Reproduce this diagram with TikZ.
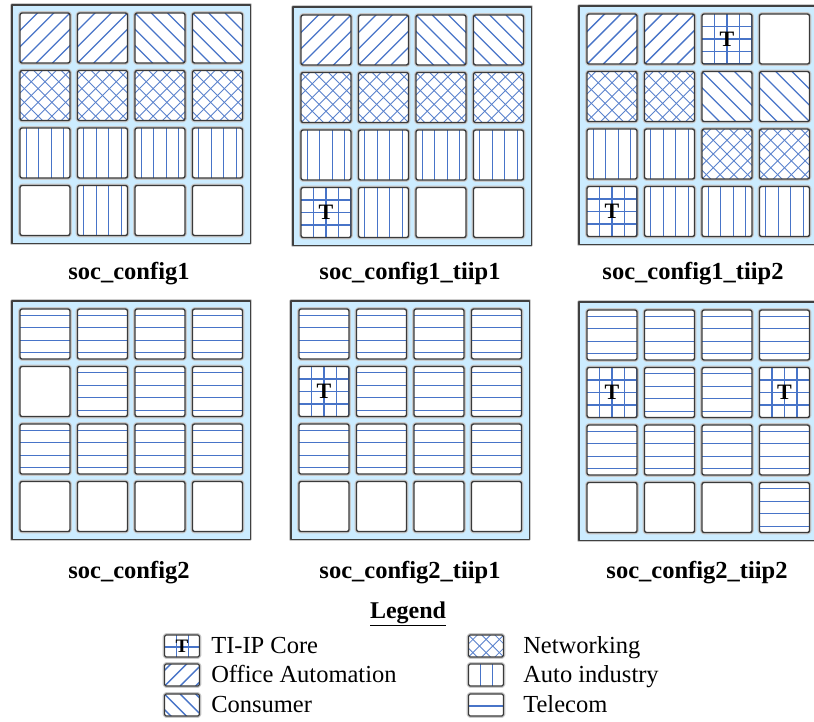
\documentclass[tikz,border=0pt]{standalone}
\usepackage{fontspec}
\setmainfont{Liberation Serif}
\usetikzlibrary{positioning,calc}
\definecolor{panelblue}{RGB}{204,236,255}
\definecolor{hatchblue}{RGB}{72,116,200}
\definecolor{tileedge}{RGB}{58,58,58}
\newcommand{\txttiip}{T}

\tikzset{
  hgap/.store in=\hgap, hstart/.store in=\hstart, hgap=12.5, hstart=6.25,
  hatchline/.style={draw=hatchblue, line width=1.4pt},
  crossline/.style={draw=hatchblue!90, line width=0.8pt},
  tilebox/.style={rectangle, rounded corners=2pt, minimum size=50pt, inner sep=0pt,
    fill=white, draw=tileedge, line width=1.4pt,
    preaction={draw=black!22, line width=3.6pt},
    font=\bfseries\fontsize{22}{22}\selectfont},
  legicon/.style={tilebox, minimum width=35pt, minimum height=22pt, rounded corners=1.5pt,
    line width=1.2pt, preaction={draw=black!18, line width=2.6pt},
    hgap=12, hstart=12, font=\bfseries\fontsize{19}{19}\selectfont},
  blank/.style={},
  office/.style={path picture={
    \foreach \k in {-4,...,4}
      \draw[hatchline] ([xshift={\k*\hgap*1.3pt}]path picture bounding box.south west) -- ++(60pt,60pt);}},
  consumer/.style={path picture={
    \foreach \k in {-4,...,4}
      \draw[hatchline] ([xshift={\k*\hgap*1.3pt}]path picture bounding box.north west) -- ++(60pt,-60pt);}},
  network/.style={path picture={
    \foreach \k in {-5,...,5} {
      \draw[crossline] ([xshift={\k*\hgap*1.1pt}]path picture bounding box.south west) -- ++(60pt,60pt);
      \draw[crossline] ([xshift={\k*\hgap*1.1pt}]path picture bounding box.north west) -- ++(60pt,-60pt);}}},
  autoind/.style={path picture={
    \foreach \k in {0,...,4}
      \draw[hatchline] ([xshift={(\hstart+\k*\hgap)*1pt}]path picture bounding box.north west) -- ++(0pt,-60pt);}},
  telecom/.style={path picture={
    \foreach \k in {0,...,4}
      \draw[hatchline] ([yshift={-(\hstart+\k*\hgap)*1pt}]path picture bounding box.north west) -- ++(60pt,0pt);}},
  tiip/.style={path picture={
    \foreach \k in {1,...,4} {
      \draw[hatchline] ([xshift={\k*\hgap*1pt}]path picture bounding box.north west) -- ++(0pt,-60pt);
      \draw[hatchline] ([yshift={-\k*\hgap*1pt}]path picture bounding box.north west) -- ++(60pt,0pt);}}},
}

\begin{document}
\begin{tikzpicture}[x=1pt, y=-1pt, line join=round,
    panel/.style={fill=panelblue, draw=black!75, line width=1.5pt, preaction={draw=black!20, line width=3.5pt}},
    cfglabel/.style={font=\bfseries\fontsize{24.5}{24}\selectfont, anchor=base, inner sep=0pt},
    legtitle/.style={font=\bfseries\fontsize{24}{24}\selectfont, anchor=base, inner sep=0pt},
    legtext/.style={font=\fontsize{24.5}{24}\selectfont, anchor=base west, inner sep=0pt}]
    \clip (0,0) rectangle (814,721);

    % six floorplans, 4x4 tiles each
    \foreach \p/\ox/\oy/\lx/\ly/\lname/\cells in {
      1/20/13/129/279/soc\_config1/{office,office,consumer,consumer,network,network,network,network,autoind,autoind,autoind,autoind,blank,autoind,blank,blank},
      2/301/15/410/279/soc\_config1\_tiip1/{office,office,consumer,consumer,network,network,network,network,autoind,autoind,autoind,autoind,tiip,autoind,blank,blank},
      3/587/14/693/279/soc\_config1\_tiip2/{office,office,tiip,blank,network,network,consumer,consumer,autoind,autoind,network,network,tiip,autoind,autoind,autoind},
      4/20/309/129/578/soc\_config2/{telecom,telecom,telecom,telecom,blank,telecom,telecom,telecom,telecom,telecom,telecom,telecom,blank,blank,blank,blank},
      5/299/309/410/578/soc\_config2\_tiip1/{telecom,telecom,telecom,telecom,tiip,telecom,telecom,telecom,telecom,telecom,telecom,telecom,blank,blank,blank,blank},
      6/587/310/697/578/soc\_config2\_tiip2/{telecom,telecom,telecom,telecom,tiip,telecom,telecom,tiip,telecom,telecom,telecom,telecom,blank,blank,blank,telecom}} {
      \draw[panel] (\ox-8,\oy-8) rectangle ++(238.5,238.5);
      \foreach \code [count=\i from 0] in \cells {
        \pgfmathtruncatemacro{\cc}{mod(\i,4)}
        \pgfmathtruncatemacro{\rr}{div(\i,4)}
        \node[tilebox,\code] (t\p-\rr\cc) at (\ox+\cc*57.5+25,\oy+\rr*57.5+25) {\csname txt\code\endcsname};
      }
      \node[cfglabel] (lab\p) at (\lx,\ly) {\lname};
    }

    % legend
    \node[legtitle] (legend) at (408,618) {\underline{Legend}};
    \foreach \n/\x/\y/\kind/\gx/\txt in {
      1/182/646/tiip/11/TI-IP Core, 2/182/675/office/11/Office Automation, 3/182/705/consumer/11/Consumer,
      4/486/646/network/19/Networking, 5/486/675/autoind/19/Auto industry, 6/486/705/telecom/19/Telecom} {
      \node[legicon,\kind] (li\n) at (\x,\y) {\csname txt\kind\endcsname};
      \node[legtext] (lt\n) at ([xshift=\gx pt, yshift=-7pt]li\n.east) {\txt};
    }
\end{tikzpicture}
\end{document}
